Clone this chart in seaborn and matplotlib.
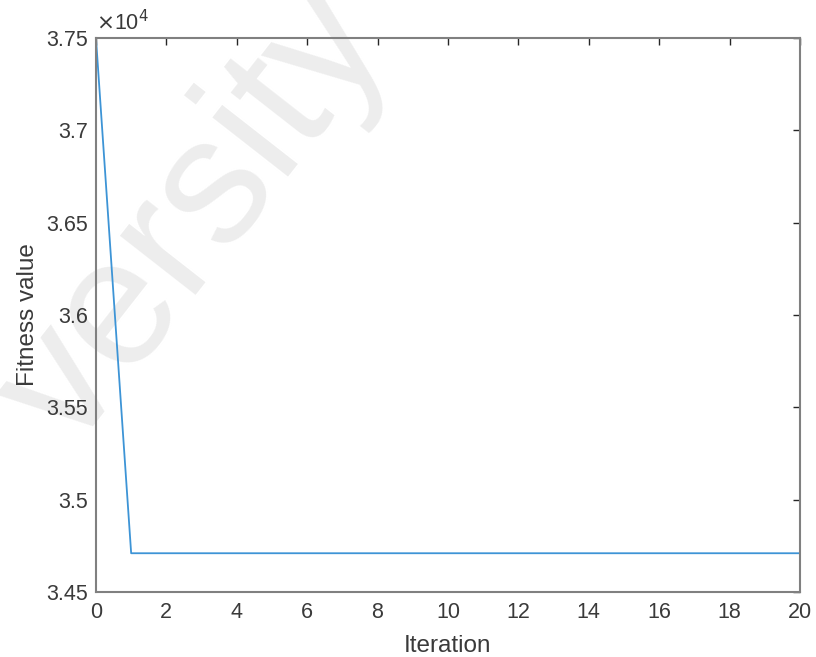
import numpy as np
import pandas as pd
import seaborn as sns
import matplotlib.pyplot as plt
from matplotlib.ticker import FuncFormatter

# Data
iterations = list(range(0, 21))
fitness = [37500, 34710, 34710, 34710, 34710, 34710, 34710, 34710, 34710, 34710,
           34710, 34710, 34710, 34710, 34710, 34710, 34710, 34710, 34710, 34710, 34710]
x_ticks = [0, 2, 4, 6, 8, 10, 12, 14, 16, 18, 20]
y_ticks = [34500, 35000, 35500, 36000, 36500, 37000, 37500]

data = pd.DataFrame({'Iteration': iterations, 'Fitness': fitness})

sns.set_style('white')
plt.rcParams['font.family'] = ['Liberation Sans', 'DejaVu Sans']

fig = plt.figure(figsize=(8.16, 6.57), dpi=100)
ax = fig.add_axes([0.1176, 0.0989, 0.8627, 0.8433])
ax.set_facecolor('none')

# faint watermark behind the plot
fig.text(0.088, 0.31, 'versity', fontsize=130, color='#ededed', rotation=52,
         rotation_mode='anchor', ha='left', va='baseline', zorder=-5)

sns.lineplot(data=data, x='Iteration', y='Fitness', ax=ax, color='#3d94d6', linewidth=1.3)

ax.set_xlim(0, 20)
ax.set_ylim(34500, 37500)
ax.set_xticks(x_ticks)
ax.set_yticks(y_ticks)
ax.yaxis.set_major_formatter(FuncFormatter(lambda v, p: '%g' % (v / 1e4)))
ax.tick_params(direction='in', length=5, width=1, colors='#262626', labelsize=15.5,
               top=True, right=True, labelcolor='#3a3a3a')
ax.tick_params(axis='x', pad=7)
ax.tick_params(axis='y', pad=6)
for s in ax.spines.values():
    s.set_color('#808080')
    s.set_linewidth(1.5)

ax.set_xlabel('Iteration', fontsize=17.5, color='#3a3a3a', labelpad=9)
ax.set_ylabel('Fitness value', fontsize=17.5, color='#3a3a3a', labelpad=5)
ax.text(0.0, 1.005, r'$\times$10$^{4}$', transform=ax.transAxes, fontsize=15.5,
        color='#3a3a3a', ha='left', va='bottom')

fig.savefig('out.png', dpi=100)
